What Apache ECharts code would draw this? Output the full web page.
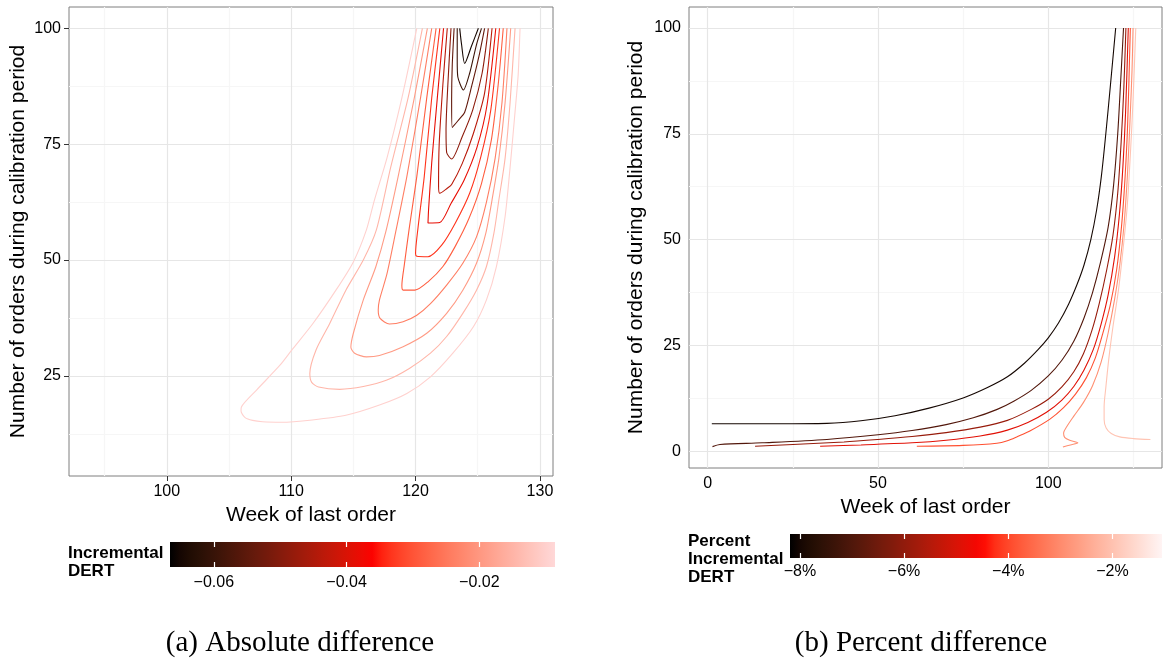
<!DOCTYPE html>
<html><head><meta charset="utf-8">
<script src="https://cdn.jsdelivr.net/npm/echarts@6/dist/echarts.min.js"></script>
<style>html,body{margin:0;padding:0;background:#fff}#c{width:1163px;height:659px}</style>
</head><body><div id="c"></div>
<script>
// ---------- Panel (a): absolute difference ----------
const xTicksA = [100, 110, 120, 130];
const yTicksA = [25, 50, 75, 100];
const xMinorA = [95, 105, 115, 125];
const yMinorA = [12.5, 37.5, 62.5, 87.5];
const levelsA = [-0.065, -0.060, -0.055, -0.050, -0.045, -0.040, -0.035, -0.030, -0.025, -0.020, -0.015, -0.010];
const A1 = [[123.55,100],[123.7,96.5],[123.95,92.4],[124.5,96.2],[125.05,100]];
const A2 = [[123.35,100],[123.35,93],[123.4,89.5],[123.85,86.7],[124.35,90.3],[124.9,96.5],[125.3,100]];
const A3 = [[123.1,100],[122.95,92],[122.9,84.5],[122.95,78.6],[123.45,80.2],[123.95,81.9],[124.5,87.4],[125.1,94],[125.55,100]];
const A4 = [[122.85,100],[122.6,88],[122.45,78],[122.5,73.2],[122.9,71.8],[123.75,76.6],[124.6,82.4],[125.35,90.3],[125.85,100]];
const A5 = [[122.55,100],[122.2,88],[121.9,75],[121.85,66],[121.95,64.4],[122.55,65.5],[122.9,66.3],[123.75,70.8],[124.65,77.3],[125.55,86],[126.15,100]];
const A6 = [[122.25,100],[121.75,85],[121.3,71],[121.05,61],[121.0,58.0],[121.95,58.1],[122.85,62.2],[123.9,67.2],[124.95,74.4],[125.75,83.5],[126.45,100]];
const A7 = [[121.95,100],[121.3,85],[120.7,68],[120.2,57],[120.0,51.4],[120.1,50.8],[121.0,50.7],[122.1,53.2],[123.2,58.0],[124.35,64.4],[125.25,72.3],[126.05,82.4],[126.75,100]];
const A8 = [[121.65,100],[120.9,85],[120.1,68],[119.5,57],[119.1,49],[118.9,44.5],[119.0,43.5],[119.95,43.5],[121.0,45.3],[122.2,48.6],[123.2,53.0],[124.3,59.0],[125.3,66.5],[126.1,76],[126.65,88],[127.05,100]];
const A9 = [[121.3,100],[120.4,85],[119.3,68],[118.4,56],[117.7,47],[117.1,41.4],[117.0,39.2],[117.15,37.4],[117.9,36.2],[119.0,36.7],[120.1,38.1],[121.2,40.6],[122.5,44.6],[123.8,49.3],[124.9,55.0],[125.7,62.5],[126.4,72],[126.95,84],[127.35,100]];
const A10 = [[120.95,100],[119.9,85],[118.6,68],[117.6,56],[116.8,48.5],[115.8,41.4],[115.0,34.2],[114.8,31.2],[115.1,29.9],[116.05,29.1],[117.1,29.4],[119.0,31.3],[120.9,34.2],[122.5,38.5],[123.8,43.5],[124.9,49.3],[125.65,55.8],[126.15,63],[126.7,72],[127.2,84],[127.65,100]];
const A11 = [[120.55,100],[119.4,85],[118.0,70],[116.85,56.5],[115.8,50],[114.4,43.5],[113.1,36.3],[112.0,30.6],[111.5,25.5],[111.65,23.6],[112.2,22.6],[113.9,22.1],[115.8,22.7],[117.7,24.1],[119.5,26.6],[121.2,29.9],[122.5,33.5],[123.8,38.5],[124.9,43.5],[125.7,48.6],[126.3,55.8],[126.7,63],[127.2,72],[127.6,84],[128.0,100]];
const A12 = [[120.1,100],[118.9,85],[117.7,72],[116.7,63],[116.05,56.5],[115.0,49.6],[113.6,43.5],[111.75,36.3],[110.0,30.4],[109.1,27.3],[107.2,21.9],[106.0,18.3],[105.97,17.4],[106.3,16.0],[106.9,15.4],[107.7,15.1],[109.2,15.0],[111.7,15.5],[114.4,16.5],[117.1,18.7],[119.3,21.2],[121.2,24.8],[123.0,29.9],[124.65,35.6],[125.7,41.4],[126.5,48.6],[127.2,59.4],[127.6,70],[128.0,82],[128.25,90],[128.4,100]];
const contoursA = [A1, A2, A3, A4, A5, A6, A7, A8, A9, A10, A11, A12];
const cbTicksA = [-0.06, -0.04, -0.02];
const cbLabelsA = ['\u22120.06', '\u22120.04', '\u22120.02'];

// ---------- Panel (b): percent difference ----------
const xTicksB = [0, 50, 100];
const yTicksB = [0, 25, 50, 75, 100];
const xMinorB = [25, 75, 125];
const yMinorB = [12.5, 37.5, 62.5, 87.5];
const levelsB = [-8, -7, -6, -5, -4, -3, -2];
const B1 = [[1.2,6.5],[20,6.5],[35,6.6],[45,7.2],[55,8.4],[65,10.2],[75,12.6],[82,15.0],[88,17.6],[93,20.8],[97,24.0],[100,26.8],[103,30.3],[106,34.8],[108.5,39.5],[110.5,44],[112.5,50],[114.2,57],[115.6,65],[116.9,75],[118.2,86],[119.8,100]];
const B2 = [[1.4,1.1],[3.6,1.6],[16,2.0],[35,2.8],[50,3.9],[60,4.9],[70,6.3],[78,7.9],[85,9.9],[90,11.9],[95,14.4],[100,17.8],[104,21.5],[107.5,26],[110.5,31.5],[113.0,37.5],[115.3,44.5],[117.6,53],[119.2,63],[120.4,75],[121.3,88],[122.1,100]];
const B3 = [[13.9,1.2],[25,1.6],[40,2.2],[50,2.8],[60,3.5],[70,4.4],[80,5.7],[88,7.3],[95,9.9],[100,12.3],[104,15.2],[107.5,18.8],[110.3,23],[112.8,28.5],[115.0,35],[117.2,43],[119.0,51],[120.4,61],[121.4,73],[122.2,86],[122.8,100]];
const B4 = [[33,1.2],[45,1.5],[60,2.0],[70,2.6],[80,3.6],[88,5.0],[94,6.8],[99.5,9.2],[104,12.1],[107.5,15.3],[110.5,19.2],[113.2,24],[115.5,30],[117.6,37],[119.5,46],[120.9,56],[121.9,67],[122.7,80],[123.5,100]];
const B5 = [[61.4,1.2],[75,1.4],[84.9,1.9],[88,2.5],[91,3.5],[94.6,4.8],[100.5,7.6],[104.5,10.3],[108,13.5],[111.2,17.4],[113.8,22],[116,27.8],[118.2,34.5],[120.1,43],[121.5,53],[122.5,64],[123.3,77],[124.1,100]];
const B6 = [[104.3,1.0],[106.5,1.5],[108.7,2.0],[106.3,2.6],[104.8,3.3],[104.5,4.3],[105.5,5.9],[107.5,8.3],[110.3,11.5],[113,15.5],[115.5,21],[117.6,28],[119.5,36],[121.0,44],[122.3,54],[123.3,66],[124.1,80],[124.6,90],[124.9,100]];
const B7 = [[130,2.8],[125,3.0],[121,3.4],[118.5,4.2],[117,5.5],[116.4,7.5],[116.4,10.5],[116.9,15],[117.8,22],[119.1,30],[120.6,38],[122.0,48],[123.2,58],[124.1,70],[124.9,83],[125.7,100]];
const contoursB = [B1, B2, B3, B4, B5, B6, B7];
const cbTicksB = [-8, -6, -4, -2];
const cbLabelsB = ['\u22128%', '\u22126%', '\u22124%', '\u22122%'];

// ---------- colour ramp (Lab interpolation, like ggplot) ----------
function hex2rgb(h){return [parseInt(h.slice(1,3),16),parseInt(h.slice(3,5),16),parseInt(h.slice(5,7),16)];}
function toLin(c){c/=255;return c<=0.04045?c/12.92:Math.pow((c+0.055)/1.055,2.4);}
function fromLin(c){c=Math.max(0,Math.min(1,c));c=c<=0.0031308?12.92*c:1.055*Math.pow(c,1/2.4)-0.055;return Math.max(0,Math.min(255,Math.round(c*255)));}
const WN=[0.95047,1,1.08883];
function fl(t){return t>0.008856?Math.cbrt(t):7.787*t+16/116;}
function fi(t){return t>0.206893?t*t*t:(t-16/116)/7.787;}
function rgb2lab(rgb){const [R,G,B]=rgb.map(toLin);const X=(0.4124*R+0.3576*G+0.1805*B)/WN[0],Y=(0.2126*R+0.7152*G+0.0722*B)/WN[1],Z=(0.0193*R+0.1192*G+0.9505*B)/WN[2];const fx=fl(X),fy=fl(Y),fz=fl(Z);return [116*fy-16,500*(fx-fy),200*(fy-fz)];}
function lab2rgb(l){const fy=(l[0]+16)/116,fx=fy+l[1]/500,fz=fy-l[2]/200;const X=fi(fx)*WN[0],Y=fi(fy)*WN[1],Z=fi(fz)*WN[2];const R=3.2406*X-1.5372*Y-0.4986*Z,G=-0.9689*X+1.8758*Y+0.0415*Z,B=0.0557*X-0.2040*Y+1.0570*Z;return 'rgb('+fromLin(R)+','+fromLin(G)+','+fromLin(B)+')';}
function ramp(stops,t){t=Math.max(0,Math.min(1,t));const n=stops.length-1;const i=Math.min(n-1,Math.floor(t*n));const u=t*n-i;const a=rgb2lab(hex2rgb(stops[i])),b=rgb2lab(hex2rgb(stops[i+1]));return lab2rgb([a[0]+(b[0]-a[0])*u,a[1]+(b[1]-a[1])*u,a[2]+(b[2]-a[2])*u]);}
const rampA = ['#000000', '#FF0000', '#FFD8D8'];
const rampB = ['#000000', '#FF0000', '#FFF4F4'];
const limA = [-0.0666, -0.0086];
const limB = [-8.19, -1.05];
function colA(v){return ramp(rampA,(v-limA[0])/(limA[1]-limA[0]));}
function colB(v){return ramp(rampB,(v-limB[0])/(limB[1]-limB[0]));}
function gradient(stops,mid){const cs=[];for(let k=0;k<=40;k++){const t=k/40;const u=t<=mid?0.5*t/mid:0.5+0.5*(t-mid)/(1-mid);cs.push({offset:t,color:ramp(stops,u)});}return {type:'linear',x:0,y:0,x2:1,y2:0,colorStops:cs};}

// ---------- helpers ----------
const FONT = 'Liberation Sans, Arial, Helvetica, sans-serif';
function gridLines(xi, yi, xs, ys, color){
  const d=[];
  xs.forEach(v=>d.push({xAxis:v,lineStyle:{color:color,width:1.2,type:'solid'}}));
  ys.forEach(v=>d.push({yAxis:v,lineStyle:{color:color,width:1.2,type:'solid'}}));
  return {type:'line',xAxisIndex:xi,yAxisIndex:yi,data:[],silent:true,z:1,animation:false,
    markLine:{silent:true,z:1,symbol:['none','none'],label:{show:false},animation:false,data:d}};
}
function valAxis(gi,min,max,ticks,name,pos,gap){
  return {type:'value',gridIndex:gi,min:min,max:max,position:pos,
    axisLine:{show:false},splitLine:{show:false},
    axisTick:{show:true,customValues:ticks,length:5,lineStyle:{color:'#333',width:1}},
    axisLabel:{customValues:ticks,fontSize:16,color:'#000',fontFamily:FONT,margin:8},
    name:name,nameLocation:'middle',nameGap:gap,nameTextStyle:{fontSize:21,color:'#000',fontFamily:FONT}};
}
function cbAxis(gi,lim,ticks,labels,pos,margin){
  return {type:'value',gridIndex:gi,min:lim[0],max:lim[1],position:pos,
    axisLine:{show:false},splitLine:{show:false},
    axisTick:{show:true,inside:true,customValues:ticks,length:5,lineStyle:{color:'#fff',width:1.2}},
    axisLabel:{show:pos==='bottom',customValues:ticks,fontSize:16,color:'#000',fontFamily:FONT,margin:margin,
      formatter:function(v){const i=ticks.findIndex(t=>Math.abs(t-v)<1e-9);return i>=0?labels[i]:'';}}};
}

const series = [
  gridLines(0,0,xMinorA,yMinorA,'#F6F6F6'),
  gridLines(0,0,xTicksA,yTicksA,'#E6E6E6'),
  gridLines(1,1,xMinorB,yMinorB,'#F6F6F6'),
  gridLines(1,1,xTicksB,yTicksB,'#E6E6E6')
];
contoursA.forEach((c,i)=>series.push({type:'line',xAxisIndex:0,yAxisIndex:0,data:c,showSymbol:false,symbol:'none',
  smooth:0.25,silent:true,z:5,animation:false,lineStyle:{color:colA(levelsA[i]),width:1.1}}));
contoursB.forEach((c,i)=>series.push({type:'line',xAxisIndex:1,yAxisIndex:1,data:c,showSymbol:false,symbol:'none',
  smooth:0.3,silent:true,z:5,animation:false,lineStyle:{color:colB(levelsB[i]),width:1.1}}));

const option = {
  backgroundColor:'#fff',
  animation:false,
  grid:[
    {left:69,top:7,width:484,height:469,show:true,backgroundColor:'#fff',borderColor:'#7F7F7F',borderWidth:1},
    {left:689,top:7,width:473,height:461,show:true,backgroundColor:'#fff',borderColor:'#7F7F7F',borderWidth:1},
    {left:170,top:542,width:385,height:25,show:true,backgroundColor:gradient(rampA,0.53),borderWidth:0},
    {left:790,top:534,width:372,height:24,show:true,backgroundColor:gradient(rampB,0.52),borderWidth:0}
  ],
  xAxis:[
    valAxis(0,92.14,131.05,xTicksA,'Week of last order','bottom',24),
    valAxis(1,-5.5,133.4,xTicksB,'Week of last order','bottom',24),
    cbAxis(2,limA,cbTicksA,cbLabelsA,'bottom',8),
    cbAxis(2,limA,cbTicksA,cbLabelsA,'top',8),
    cbAxis(3,limB,cbTicksB,cbLabelsB,'bottom',6),
    cbAxis(3,limB,cbTicksB,cbLabelsB,'top',6)
  ],
  yAxis:[
    valAxis(0,3.4,104.6,yTicksA,'Number of orders during calibration period','left',40),
    valAxis(1,-3.95,104.95,yTicksB,'Number of orders during calibration period','left',42),
    {type:'value',gridIndex:2,min:0,max:1,show:false},
    {type:'value',gridIndex:3,min:0,max:1,show:false}
  ],
  series:series,
  graphic:[
    {type:'text',left:68,top:545,style:{text:'Incremental',font:'bold 17px '+FONT,fill:'#000'}},
    {type:'text',left:68,top:563,style:{text:'DERT',font:'bold 17px '+FONT,fill:'#000'}},
    {type:'text',left:688,top:533,style:{text:'Percent',font:'bold 17px '+FONT,fill:'#000'}},
    {type:'text',left:688,top:551,style:{text:'Incremental',font:'bold 17px '+FONT,fill:'#000'}},
    {type:'text',left:688,top:569,style:{text:'DERT',font:'bold 17px '+FONT,fill:'#000'}},
    {type:'text',x:300,y:643,style:{text:'(a) Absolute difference',font:'29px Liberation Serif, Times New Roman, serif',fill:'#000',textAlign:'center',textVerticalAlign:'middle'}},
    {type:'text',x:921,y:643,style:{text:'(b) Percent difference',font:'29px Liberation Serif, Times New Roman, serif',fill:'#000',textAlign:'center',textVerticalAlign:'middle'}}
  ]
};
const chart = echarts.init(document.getElementById('c'), null, {renderer:'canvas'});
chart.setOption(option);
</script></body></html>
